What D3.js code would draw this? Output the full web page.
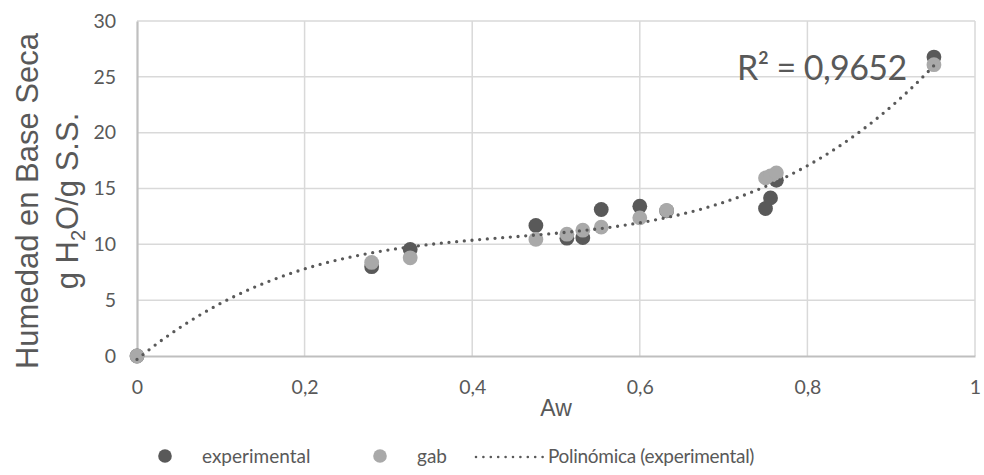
<!DOCTYPE html>
<html>
<head>
<meta charset="utf-8">
<script src="https://cdn.jsdelivr.net/npm/d3@7"></script>
<style>
  body { margin: 0; background: #fff; }
  svg { display: block; }
</style>
</head>
<body>
<div id="chart"></div>
<script>
// ---- data ----
const aw = [0, 0.280, 0.326, 0.476, 0.513, 0.532, 0.554, 0.600, 0.632, 0.750, 0.756, 0.763, 0.951];
const experimental = [0, 8.0, 9.54, 11.69, 10.55, 10.6, 13.12, 13.42, 13.0, 13.21, 14.16, 15.74, 26.77];
const gab = [0, 8.38, 8.79, 10.44, 10.91, 11.27, 11.54, 12.37, 13.03, 15.95, 16.13, 16.4, 26.09];
const xTicks = [0, 0.2, 0.4, 0.6, 0.8, 1];
const xTickLabels = ["0", "0,2", "0,4", "0,6", "0,8", "1"];
const yTicks = [0, 5, 10, 15, 20, 25, 30];
const r2Label = "R² = 0,9652";
const legendLabels = ["experimental", "gab", "Polinómica (experimental)"];

const W = 984, H = 475;
const m = { left: 137, right: 975, top: 21, bottom: 356 };
const darkCol = "#595959", lightCol = "#a9a9a9";
const textCol = "#595959";
const font = "Lato, 'Open Sans', sans-serif";

const svg = d3.select("#chart").append("svg").attr("width", W).attr("height", H);

const x = d3.scaleLinear().domain([0, 1]).range([m.left, m.right]);
const y = d3.scaleLinear().domain([0, 30]).range([m.bottom, m.top]);

// gridlines
const grid = svg.append("g");
grid.selectAll("line.h").data(yTicks.filter(d => d > 0)).join("line")
  .attr("x1", m.left).attr("x2", m.right)
  .attr("y1", d => y(d)).attr("y2", d => y(d))
  .attr("stroke", "#d9d9d9").attr("stroke-width", 1.5);
grid.selectAll("line.v").data(xTicks.filter(d => d > 0)).join("line")
  .attr("x1", d => x(d)).attr("x2", d => x(d))
  .attr("y1", m.top).attr("y2", m.bottom)
  .attr("stroke", "#d9d9d9").attr("stroke-width", 1.5);

// axes
const xAxis = d3.axisBottom(x).tickValues(xTicks).tickFormat((d, i) => xTickLabels[i]).tickSize(0).tickPadding(24);
const gx = svg.append("g").attr("transform", `translate(0,${m.bottom})`).call(xAxis);
gx.select(".domain").attr("stroke", "#bfbfbf").attr("stroke-width", 2.2);
gx.selectAll("text").attr("fill", textCol).style("font-family", font).style("font-size", "19.5px");

const yAxis = d3.axisLeft(y).tickValues(yTicks).tickSize(0).tickPadding(21);
const gy = svg.append("g").attr("transform", `translate(${m.left},0)`).call(yAxis);
gy.select(".domain").attr("stroke", "#bfbfbf").attr("stroke-width", 2.2);
gy.selectAll("text").attr("fill", textCol).style("font-family", font).style("font-size", "19.5px");

// points
const pts = svg.append("g");
pts.selectAll("circle.exp").data(aw.map((a, i) => [a, experimental[i]])).join("circle")
  .attr("cx", d => x(d[0])).attr("cy", d => y(d[1])).attr("r", 7.4).attr("fill", darkCol);
pts.selectAll("circle.gab").data(aw.map((a, i) => [a, gab[i]])).join("circle")
  .attr("cx", d => x(d[0])).attr("cy", d => y(d[1])).attr("r", 7.4).attr("fill", lightCol);

// polynomial (order 3) least-squares trendline of the experimental series
function polyfit(xs, ys, order) {
  const n = order + 1;
  const A = Array.from({ length: n }, () => new Array(n + 1).fill(0));
  for (let k = 0; k < xs.length; k++) {
    for (let i = 0; i < n; i++) {
      for (let j = 0; j < n; j++) A[i][j] += Math.pow(xs[k], i + j);
      A[i][n] += ys[k] * Math.pow(xs[k], i);
    }
  }
  for (let i = 0; i < n; i++) {
    let p = i;
    for (let r = i + 1; r < n; r++) if (Math.abs(A[r][i]) > Math.abs(A[p][i])) p = r;
    [A[i], A[p]] = [A[p], A[i]];
    for (let r = 0; r < n; r++) {
      if (r === i) continue;
      const f = A[r][i] / A[i][i];
      for (let c = i; c <= n; c++) A[r][c] -= f * A[i][c];
    }
  }
  return A.map((row, i) => row[n] / row[i]);
}
const coef = polyfit(aw, experimental, 3);
const xmin = d3.min(aw), xmax = d3.max(aw);
const trend = d3.range(0, 201).map(i => {
  const xv = xmin + (xmax - xmin) * i / 200;
  return [xv, coef.reduce((s, c, k) => s + c * Math.pow(xv, k), 0)];
});
svg.append("path").datum(trend)
  .attr("d", d3.line().x(d => x(d[0])).y(d => y(d[1])))
  .attr("fill", "none").attr("stroke", darkCol).attr("stroke-width", 3.3)
  .attr("stroke-linecap", "round").attr("stroke-dasharray", "0 7.7");

// R² label
svg.append("text").attr("x", 737).attr("y", 80).text(r2Label)
  .attr("fill", textCol).style("font-family", font).style("font-size", "34px")
  .style("letter-spacing", "-0.6px");

// axis titles
svg.append("text").attr("transform", "translate(38,201) rotate(-90)")
  .attr("text-anchor", "middle").attr("fill", textCol)
  .style("font-family", "'Liberation Sans', Arial, sans-serif").style("font-size", "31px")
  .text("Humedad en Base Seca");
const t2 = svg.append("text").attr("transform", "translate(78,201) rotate(-90)")
  .attr("text-anchor", "middle").attr("fill", textCol)
  .style("font-family", "'Liberation Sans', Arial, sans-serif").style("font-size", "31px");
t2.append("tspan").text("g H");
t2.append("tspan").text("2").attr("dy", 7).style("font-size", "20px");
t2.append("tspan").text("O/g S.S.").attr("dy", -7);

svg.append("text").attr("x", (m.left + m.right) / 2).attr("y", 416).attr("text-anchor", "middle")
  .attr("fill", textCol).style("font-family", "'Liberation Sans', Arial, sans-serif").style("font-size", "23px")
  .text("Aw");

// legend
const lg = svg.append("g").style("font-family", font).style("font-size", "19px");
const ly = 456;
lg.append("circle").attr("cx", 165).attr("cy", ly).attr("r", 6.8).attr("fill", darkCol);
lg.append("text").attr("x", 202).attr("y", ly).attr("dy", "0.35em").attr("fill", textCol).text(legendLabels[0]);
lg.append("circle").attr("cx", 380).attr("cy", ly).attr("r", 6.8).attr("fill", lightCol);
lg.append("text").attr("x", 417).attr("y", ly).attr("dy", "0.35em").attr("fill", textCol).text(legendLabels[1]);
lg.append("line").attr("x1", 476).attr("x2", 543).attr("y1", ly + 1).attr("y2", ly + 1)
  .attr("stroke", darkCol).attr("stroke-width", 2.6).attr("stroke-linecap", "round").attr("stroke-dasharray", "0 7.4");
lg.append("text").attr("x", 548).attr("y", ly).attr("dy", "0.35em").attr("fill", textCol)
  .style("letter-spacing", "-0.3px").text(legendLabels[2]);
</script>
</body>
</html>
